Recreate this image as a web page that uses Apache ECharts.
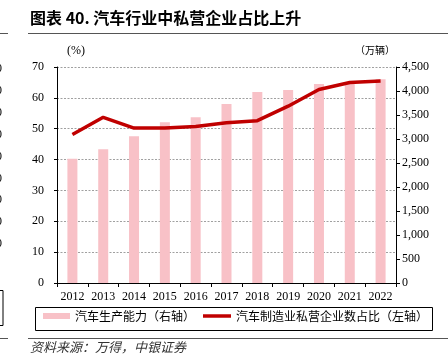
<!DOCTYPE html>
<html><head><meta charset="utf-8">
<script src="https://cdn.jsdelivr.net/npm/echarts@6/dist/echarts.min.js"></script>
<style>html,body{margin:0;padding:0;background:#fff}#c{width:448px;height:355px}</style>
</head><body><div id="c"></div>
<script>
var years = ['2012','2013','2014','2015','2016','2017','2018','2019','2020','2021','2022'];
var capacity = [2590, 2785, 3056, 3347, 3451, 3729, 3979, 4021, 4146, 4188, 4243];
var privateShare = [48.1, 53.7, 50.2, 50.2, 50.7, 51.9, 52.6, 57.3, 62.7, 65.0, 65.5];
var capacityName = '汽车生产能力（右轴）';
var shareName = '汽车制造业私营企业数占比（左轴）';
var titleText = '图表 40. 汽车行业中私营企业占比上升';
var sourceText = '资料来源：万得，中银证券';

var serif = '"Liberation Serif", "Noto Sans CJK SC", serif';
var cjk = '"Noto Sans CJK SC", sans-serif';
var chart = echarts.init(document.getElementById('c'), null, {renderer:'canvas'});
var leftFrag = [];
[70,92,114,136,158,180,201,223,245].forEach(function(y){
  leftFrag.push({type:'text', left:-4, top:y-7, style:{text:'0', font:'12px "Liberation Serif"', fill:'#000'}});
});
chart.setOption({
  animation:false,
  grid:{left:57, right:52, top:67, height:216},
  legend:[{
    left:38, top:310, itemWidth:27, itemHeight:6, itemGap:0, padding:[0,0,0,5], itemTextGap:4,
    textStyle:{fontFamily:cjk, fontSize:12, color:'#000'},
    data:[{name:capacityName, icon:'rect'}]
  },{
    left:198, top:310, itemWidth:28, itemHeight:3.5, itemGap:0, padding:[0,0,0,5], itemTextGap:3,
    textStyle:{fontFamily:cjk, fontSize:12, color:'#000'},
    data:[{name:shareName, icon:'rect', itemStyle:{color:'#C00000'}}]
  }],
  xAxis:{
    type:'category', data:years, boundaryGap:true,
    axisLine:{lineStyle:{color:'#000', width:1}},
    axisTick:{show:true, length:4, lineStyle:{color:'#000'}},
    axisLabel:{color:'#000', fontFamily:serif, fontSize:12, margin:8, interval:0}
  },
  yAxis:[{
    type:'value', min:0, max:70, interval:10,
    axisLine:{show:true, lineStyle:{color:'#000'}},
    axisTick:{show:true, length:3, lineStyle:{color:'#000'}},
    axisLabel:{color:'#000', fontFamily:serif, fontSize:12, margin:13},
    splitLine:{show:true, lineStyle:{color:'#888', width:0.8, type:[2,1.5]}}
  },{
    type:'value', min:0, max:4500, interval:500,
    axisLine:{show:true, lineStyle:{color:'#000'}},
    axisTick:{show:true, length:4, lineStyle:{color:'#000'}},
    axisLabel:{color:'#000', fontFamily:serif, fontSize:12, margin:6,
      formatter:function(v){return v.toString().replace(/\B(?=(\d{3})+(?!\d))/g, ',');}},
    splitLine:{show:false}
  }],
  series:[{
    name:capacityName, type:'bar', yAxisIndex:1, data:capacity, barWidth:10,
    itemStyle:{color:'#F8C1C7'}
  },{
    name:shareName, type:'line', yAxisIndex:0, data:privateShare,
    symbol:'none', lineStyle:{color:'#C00000', width:3.5}, itemStyle:{color:'#C00000'}
  }],
  graphic:[
    {type:'text', left:30, top:10, style:{text:titleText, font:'bold 16px "Noto Sans CJK SC"', fill:'#000'}},
    {type:'line', shape:{x1:28, y1:33.5, x2:448, y2:33.5}, style:{stroke:'#555', lineWidth:1}},
    {type:'line', shape:{x1:0, y1:33.5, x2:8, y2:33.5}, style:{stroke:'#555', lineWidth:1}},
    {type:'text', left:67, top:45, style:{text:'(%)', font:'12px "Liberation Serif"', fill:'#000'}},
    {type:'text', left:355, top:45, style:{text:'（万辆）', font:'10px "Noto Sans CJK SC"', fill:'#000'}},
    {type:'rect', shape:{x:35.5, y:307.5, width:397, height:23}, style:{fill:'none', stroke:'#000', lineWidth:1}},
    {type:'rect', shape:{x:-5, y:290.5, width:8, height:35}, style:{fill:'none', stroke:'#000', lineWidth:1}},
    {type:'line', shape:{x1:28, y1:338.5, x2:448, y2:338.5}, style:{stroke:'#555', lineWidth:1}},
    {type:'line', shape:{x1:0, y1:338.5, x2:8, y2:338.5}, style:{stroke:'#555', lineWidth:1}},
    {type:'text', left:30, top:341, style:{text:sourceText, font:'italic 13px "Noto Sans CJK SC"', fill:'#333'}}
  ].concat(leftFrag)
});
</script></body></html>
